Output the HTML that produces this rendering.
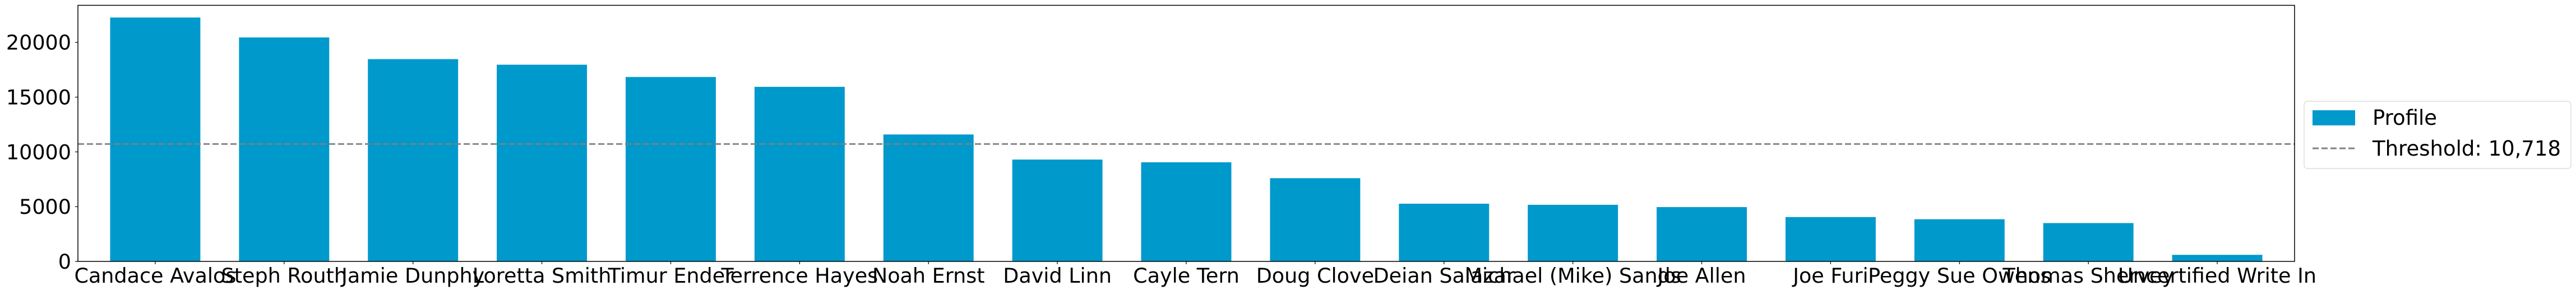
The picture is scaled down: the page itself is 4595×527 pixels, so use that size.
<!DOCTYPE html>
<html><head><meta charset="utf-8"><style>
html,body{margin:0;padding:0;background:#fff;}
svg{display:block;font-family:"DejaVu Sans","Liberation Sans",sans-serif;}
</style></head><body>
<svg id="chart" width="4595" height="527" viewBox="0 0 4595 527">
<g id="plot"></g>
<g>
<rect x="4110" y="181" width="476" height="120" rx="6" fill="#fff" stroke="#ddd" stroke-width="1.5"/>
<rect x="4125" y="197" width="76" height="27" fill="#0099cc"/>
<text x="4232" y="223" font-size="37" fill="#000">Profile</text>
<line x1="4125" y1="265" x2="4201" y2="265" stroke="#808080" stroke-width="3" stroke-dasharray="11,5"/>
<text x="4232" y="278" font-size="37" fill="#000">Threshold: 10,718</text>
</g>
</svg>
<script>
const categories = ["Candace Avalos","Steph Routh","Jamie Dunphy","Loretta Smith","Timur Ender","Terrence Hayes","Noah Ernst","David Linn","Cayle Tern","Doug Clove","Deian Salazar","Michael (Mike) Sands","Joe Allen","Joe Furi","Peggy Sue Owens","Thomas Shervey","Uncertified Write In"];
const values = [22270,20450,18470,17960,16840,15940,11590,9300,9050,7600,5270,5170,4960,4050,3850,3500,600];
const threshold = 10718;
const yTicks = [0,5000,10000,15000,20000];

const NS = "http://www.w3.org/2000/svg";
const g = document.getElementById('plot');
const L = 139, R = 4093, T = 9.5, B = 467;
const yMax = Math.max(...values) * 1.05;
const step = (R - L) / (categories.length - 1 + 1.2);
function xPos(i){ return L + step * 0.6 + i * step; }
function yPos(v){ return B - (v / yMax) * (B - T); }
function mk(tag, attrs){ const e = document.createElementNS(NS, tag); for (const k in attrs) e.setAttribute(k, attrs[k]); g.appendChild(e); return e; }

values.forEach((v, i) => {
  const w = step * 0.7;
  const r = mk('rect', {x: xPos(i) - w/2, y: yPos(v), width: w, height: B - yPos(v), fill: '#0099cc'});
  
  
});

const th = mk('line', {x1: L, x2: R, y1: yPos(threshold), y2: yPos(threshold), stroke: '#808080', 'stroke-width': 3, 'stroke-dasharray': '11,5', opacity: 0.95});



const frame = mk('rect', {x: L, y: T, width: R - L, height: B - T, fill: 'none', stroke: '#000', 'stroke-width': 1.5});



yTicks.forEach(t => {
  const y = yPos(t);
  const tk = mk('line', {x1: L - 5, x2: L, y1: y, y2: y, stroke: '#000', 'stroke-width': 1.2});
  
  
  const tx = mk('text', {x: 127, y: y + 13, 'text-anchor': 'end', 'font-size': 36.5, fill: '#000'});
  tx.textContent = String(t);
  
  
});

categories.forEach((c, i) => {
  const x = xPos(i);
  const tk = mk('line', {x1: x, x2: x, y1: B, y2: B + 5, stroke: '#000', 'stroke-width': 1.2});
  
  
  const tx = mk('text', {x: x, y: 505, 'text-anchor': 'middle', 'font-size': 36.5, fill: '#000'});
  tx.textContent = c;
  
  
});
</script>
</body></html>
